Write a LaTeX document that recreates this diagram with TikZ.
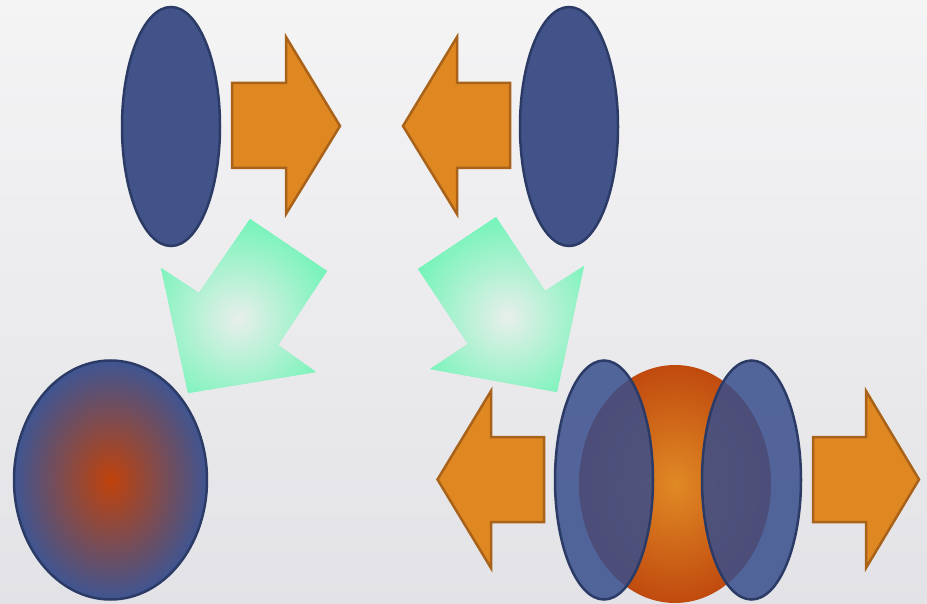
\documentclass[tikz,border=0pt]{standalone}

% palette
\definecolor{bgtop}{HTML}{F4F4F5}
\definecolor{bgbot}{HTML}{E3E3E7}
\definecolor{navy}{HTML}{415389}
\definecolor{navyline}{HTML}{2C3B66}
\definecolor{amber}{HTML}{DF8822}
\definecolor{amberline}{HTML}{A8621A}
\definecolor{mint}{HTML}{6FF4B6}
\definecolor{mintcore}{HTML}{E8EFEB}
\definecolor{rust}{HTML}{C0420A}
\definecolor{rimblue}{HTML}{3F5592}
\definecolor{glowcore}{HTML}{E08A25}
\definecolor{glowrim}{HTML}{C04A0E}
\definecolor{veil}{HTML}{384E8C}

\begin{document}
\begin{tikzpicture}[x=1pt,y=-1pt,
  lens/.style={fill=navy,draw=navyline,line width=2.5pt},
  block/.style={fill=amber,draw=amberline,line width=2.5pt,line join=miter},
  veiled/.style={fill=veil,fill opacity=0.85,draw=navyline,line width=2.5pt},
  rim/.style={draw=navyline,line width=2.5pt},
  glow/.style={inner color=mintcore,outer color=mint}]

% backdrop
\shade[top color=bgtop,bottom color=bgbot] (0,0) rectangle (927,604);
\useasboundingbox (0,0) rectangle (927,604);

% upper pair of lenses with their block arrows
\draw[lens] (171,126.5) ellipse [x radius=49pt,y radius=119.5pt];
\draw[lens] (569,126.5) ellipse [x radius=49pt,y radius=119.5pt];
\draw[block] (232,83) -- (286,83) -- (286,37) -- (340,126) -- (286,214) -- (286,168) -- (232,168) -- cycle;
\draw[block] (510,83) -- (457,83) -- (457,37) -- (403,126) -- (457,214) -- (457,168) -- (510,168) -- cycle;

% glowing diagonal arrows
\begin{scope}
  \clip (250,219) -- (327,271) -- (278,345) -- (316,372) -- (188,393) -- (161,268) -- (199,293) -- cycle;
  \fill[mint] (150,210) rectangle (340,400);
  \shade[glow] (238,319) circle [radius=105pt];
\end{scope}
\begin{scope}
  \clip (496,217) -- (418,269) -- (468,344) -- (430,369) -- (557,392) -- (584,266) -- (545,291) -- cycle;
  \fill[mint] (410,210) rectangle (590,400);
  \shade[glow] (507,317) circle [radius=105pt];
\end{scope}

% merged ball
\shade[inner color=rust,outer color=rimblue] (110.5,480) ellipse [x radius=96.5pt,y radius=119.5pt];
\draw[rim] (110.5,480) ellipse [x radius=96.5pt,y radius=119.5pt];

% core between two translucent lenses
\shade[inner color=glowcore,outer color=glowrim] (675,484) ellipse [x radius=96pt,y radius=119pt];
\draw[veiled] (604,480) ellipse [x radius=49pt,y radius=119.5pt];
\draw[veiled] (751.5,480) ellipse [x radius=49.5pt,y radius=119.5pt];

% lower block arrows
\draw[block] (544,437) -- (491,437) -- (491,391) -- (437.5,479.5) -- (491,568) -- (491,522) -- (544,522) -- cycle;
\draw[block] (813,437) -- (866,437) -- (866,391) -- (919,479.5) -- (866,568) -- (866,522) -- (813,522) -- cycle;
\end{tikzpicture}
\end{document}
